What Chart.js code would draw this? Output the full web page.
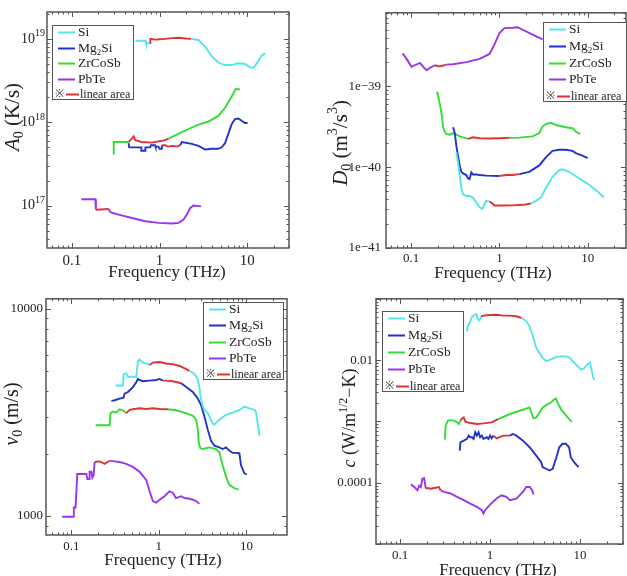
<!DOCTYPE html>
<html>
<head>
<meta charset="utf-8">
<style>
body { margin: 0; background: #fff; }
#wrap { position: relative; width: 627px; height: 576px; overflow: hidden; }
.cell { position: absolute; }
</style>
</head>
<body>
<div id="wrap">
  <div class="cell" style="left:0;top:0;width:313px;height:288px"><canvas id="cA"></canvas></div>
  <div class="cell" style="left:313px;top:0;width:314px;height:288px"><canvas id="cD"></canvas></div>
  <div class="cell" style="left:0;top:288px;width:313px;height:288px"><canvas id="cV"></canvas></div>
  <div class="cell" style="left:313px;top:288px;width:314px;height:288px"><canvas id="cC"></canvas></div>
</div>

<script src="https://cdn.jsdelivr.net/npm/chart.js"></script>

<script>
// materials, in legend order
const materials = ["Si", "Mg2Si", "ZrCoSb", "PbTe"];
const colors = ["#52e6ea", "#2233cc", "#33dd33", "#9a35ee"];
const RED = "#dd3333";

const freqLabels = [0.1, 1, 10];

// A0 (K/s) vs frequency (THz)
const A_Si = [[0.53,9.5e18],[0.69,9.5e18],[0.70,8.9e18],[0.78,8.9e18],[0.785,1.0e19],[0.9,9.8e18],[1.0,9.9e18],[1.16,1.0e19],[1.4,1.02e19],[1.65,1.03e19],[2.0,1.01e19],[2.29,1.0e19],[2.78,9.7e18],[3.31,8.1e18],[3.94,6.2e18],[4.69,5.2e18],[5.59,4.85e18],[6.66,4.85e18],[7.93,5.1e18],[9.45,5.0e18],[10.8,4.55e18],[11.5,4.5e18],[12.3,4.76e18],[13.4,5.44e18],[14.6,6.3e18],[16,6.7e18]];
const A_Mg = [[0.444,5.6e17],[0.45,5.0e17],[0.62,5.0e17],[0.62,4.55e17],[0.69,4.55e17],[0.69,5.0e17],[0.78,5.0e17],[0.8,5.3e17],[0.89,5.3e17],[0.9,5.1e17],[0.97,5.1e17],[1.0,4.8e17],[1.06,4.8e17],[1.07,5.3e17],[1.16,5.3e17],[1.25,5.1e17],[1.4,5.2e17],[1.6,5.1e17],[1.72,5.3e17],[1.8,5.8e17],[2.33,5.5e17],[2.78,5.2e17],[3.31,4.7e17],[3.94,4.8e17],[4.69,4.8e17],[5.12,5.0e17],[5.59,5.6e17],[6.1,7.3e17],[6.66,9.5e17],[7.26,1.09e18],[7.93,1.11e18],[8.65,1.04e18],[9.45,9.8e17],[10.1,9.8e17]];
const A_Zr = [[0.30,4.1e17],[0.30,5.8e17],[0.313,5.8e17],[0.444,5.8e17],[0.484,6.37e17],[0.506,6.78e17],[0.528,6.1e17],[0.629,5.8e17],[0.818,5.7e17],[0.974,5.9e17],[1.16,6.1e17],[1.27,6.37e17],[1.51,6.97e17],[1.96,7.96e17],[2.78,9.35e17],[3.61,1.02e18],[4.69,1.19e18],[5.59,1.49e18],[6.66,2.04e18],[7.4,2.5e18],[8.3,2.48e18]];
const A_Pb = [[0.128,1.19e17],[0.185,1.19e17],[0.188,8.9e16],[0.263,9.1e16],[0.274,8.36e16],[0.287,8.2e16],[0.341,7.8e16],[0.484,7.1e16],[0.687,6.5e16],[0.974,6.2e16],[1.38,6.1e16],[1.645,6.2e16],[1.88,6.8e16],[2.05,7.8e16],[2.23,9.3e16],[2.44,1.0e17],[2.98,9.8e16]];
const A_linear = [[0.78,2.29],[1.1,1.75],[0.44,1.27],[0.188,0.26]];
const A_labels = [1e17, 1e18, 1e19];

// D0 (m^3/s^3)
const D_Si = [[0.325,1.52e-40],[0.339,1.15e-40],[0.355,7.98e-41],[0.370,5.53e-41],[0.387,4.6e-41],[0.421,4.4e-41],[0.459,4.4e-41],[0.501,4.2e-41],[0.546,3.66e-41],[0.596,3.18e-41],[0.638,3.04e-41],[0.678,3.5e-41],[0.708,3.83e-41],[0.772,3.75e-41],[0.841,3.5e-41],[0.878,3.35e-41],[1.09,3.35e-41],[1.41,3.37e-41],[1.99,3.45e-41],[2.27,3.56e-41],[2.59,3.83e-41],[2.94,4.2e-41],[3.35,5.53e-41],[3.98,7.6e-41],[4.73,9.16e-41],[5.17,9.4e-41],[6.13,8.75e-41],[7.94,7.3e-41],[10.3,6.05e-41],[13.4,4.82e-41],[15.2,4.2e-41]];
const D_Mg = [[0.298,3.11e-40],[0.312,2.64e-40],[0.325,1.83e-40],[0.339,1.39e-40],[0.355,1.05e-40],[0.370,8.75e-41],[0.387,8.37e-41],[0.421,7.98e-41],[0.440,7.28e-41],[0.459,7.1e-41],[0.480,8.6e-41],[0.501,8.1e-41],[0.546,8.1e-41],[0.596,7.98e-41],[0.708,7.85e-41],[1.0,7.78e-41],[1.19,7.98e-41],[1.41,7.98e-41],[1.68,8.2e-41],[2.17,8.75e-41],[2.82,1.05e-40],[3.35,1.32e-40],[3.98,1.59e-40],[4.73,1.64e-40],[5.63,1.64e-40],[6.7,1.59e-40],[7.3,1.49e-40],[8.67,1.39e-40],[9.96,1.29e-40]];
const D_Zr = [[0.197,8.55e-40],[0.208,6.6e-40],[0.221,4.58e-40],[0.230,3.17e-40],[0.240,2.76e-40],[0.251,2.57e-40],[0.273,2.52e-40],[0.298,2.64e-40],[0.325,2.52e-40],[0.355,2.40e-40],[0.404,2.30e-40],[0.440,2.23e-40],[0.501,2.34e-40],[0.596,2.28e-40],[0.772,2.26e-40],[1.0,2.28e-40],[1.30,2.30e-40],[1.68,2.32e-40],[2.37,2.40e-40],[2.82,2.64e-40],[3.07,3.17e-40],[3.35,3.41e-40],[3.81,3.54e-40],[4.35,3.32e-40],[5.63,3.11e-40],[6.7,3.03e-40],[7.3,2.76e-40],[8.2,2.57e-40]];
const D_Pb = [[0.080,2.55e-39],[0.089,2.18e-39],[0.101,1.74e-39],[0.110,1.82e-39],[0.126,1.95e-39],[0.137,1.74e-39],[0.150,1.58e-39],[0.163,1.69e-39],[0.186,1.82e-39],[0.202,1.77e-39],[0.221,1.78e-39],[0.251,1.85e-39],[0.298,1.87e-39],[0.421,1.99e-39],[0.596,2.18e-39],[0.772,2.51e-39],[0.878,3.3e-39],[1.0,4.56e-39],[1.14,5.23e-39],[1.41,5.3e-39],[1.61,5.37e-39],[1.83,5.0e-39],[2.37,4.35e-39],[3.07,3.79e-39]];
const D_linear = [[0.8,2.3],[1.05,1.7],[0.44,1.3],[0.19,0.26]];
const D_labels = [1e-41, 1e-40, 1e-39];

// v0 (m/s)
const V_Si = [[0.321,4272],[0.389,4272],[0.396,4850],[0.424,4885],[0.444,4710],[0.552,4710],[0.577,5600],[0.602,5700],[0.657,5508],[0.717,5455],[0.783,5366],[0.854,5508],[1.02,5543],[1.21,5455],[1.44,5420],[1.72,5307],[2.05,5118],[2.23,5030],[2.55,4850],[2.78,4593],[2.9,4195],[3.03,3628],[3.22,3313],[3.61,3140],[4.12,2796],[4.30,2766],[4.90,2920],[5.84,3083],[6.95,3162],[8.29,3255],[9.43,3376],[10.8,3313],[12.3,3255],[12.8,3196],[13.4,2817],[14.0,2481],[14.4,2443]];
const V_Mg = [[0.287,3602],[0.313,3625],[0.356,3694],[0.396,3728],[0.406,3901],[0.444,3973],[0.484,4120],[0.506,4195],[0.552,4428],[0.577,4593],[0.602,4543],[0.657,4478],[0.783,4510],[0.932,4543],[1.02,4593],[1.11,4510],[1.21,4510],[1.44,4478],[1.80,4380],[2.05,4195],[2.44,3973],[2.78,3694],[3.03,3438],[3.31,3027],[3.61,2620],[3.94,2307],[4.30,2185],[4.90,2146],[5.35,2108],[5.84,2146],[6.37,2071],[6.95,2018],[7.59,2018],[8.29,2011],[8.66,1759],[9.45,1607],[10.05,1590]];
const V_Zr = [[0.190,2746],[0.274,2746],[0.281,3140],[0.299,3196],[0.327,3162],[0.356,3279],[0.389,3242],[0.424,3140],[0.463,3255],[0.506,3279],[0.602,3314],[0.717,3290],[0.854,3314],[1.02,3290],[1.27,3279],[1.57,3242],[2.05,3140],[2.44,3050],[2.66,2920],[2.78,2620],[2.85,2266],[2.98,2124],[3.17,2108],[3.77,2146],[4.49,2108],[4.90,2033],[5.35,1759],[5.84,1550],[6.37,1416],[7.26,1365],[8.15,1341]];
const V_Pb = [[0.0786,993],[0.105,993],[0.107,1099],[0.112,1099],[0.117,1595],[0.149,1595],[0.153,1511],[0.160,1511],[0.162,1636],[0.170,1636],[0.174,1533],[0.180,1574],[0.185,1824],[0.211,1837],[0.241,1788],[0.274,1851],[0.313,1837],[0.356,1824],[0.424,1788],[0.506,1727],[0.602,1636],[0.717,1495],[0.783,1317],[0.854,1181],[0.932,1160],[1.02,1199],[1.16,1247],[1.32,1317],[1.44,1296],[1.57,1222],[1.80,1247],[1.96,1222],[2.23,1212],[2.44,1199],[2.66,1181],[2.90,1145]];
const V_linear = [[0.78,2.23],[1.1,1.8],[0.44,1.3],[0.185,0.27]];
const V_labels = [1000, 10000];

// c (W/m^1/2-K)
const C_Si = [[0.554,0.0295],[0.563,0.0356],[0.593,0.0403],[0.629,0.0505],[0.667,0.055],[0.702,0.0564],[0.726,0.0486],[0.751,0.0446],[0.776,0.0457],[0.796,0.0519],[0.845,0.0532],[1.0,0.0545],[1.18,0.055],[1.40,0.0532],[1.66,0.0532],[1.96,0.0519],[2.23,0.0486],[2.53,0.0429],[2.75,0.0356],[2.99,0.0245],[3.26,0.0158],[3.54,0.0131],[3.85,0.0109],[4.19,0.00964],[4.56,0.01],[5.40,0.0112],[6.38,0.0116],[7.56,0.0112],[8.94,0.00851],[10.2,0.00706],[11.0,0.00723],[12.0,0.00851],[12.9,0.00905],[13.4,0.00706],[14.0,0.00518],[14.5,0.00474]];
const C_Mg = [[0.460,3.34e-4],[0.468,4.56e-4],[0.510,4.85e-4],[0.554,5.18e-4],[0.578,5.86e-4],[0.603,5.51e-4],[0.629,5.51e-4],[0.656,5.18e-4],[0.684,6.64e-4],[0.714,5.86e-4],[0.745,6.64e-4],[0.776,5.51e-4],[0.810,5.86e-4],[0.845,5.18e-4],[0.919,5.51e-4],[0.959,5.18e-4],[1.0,5.86e-4],[1.04,5.3e-4],[1.09,5.86e-4],[1.18,5.3e-4],[1.40,5.86e-4],[1.66,5.86e-4],[1.80,6.24e-4],[1.96,5.86e-4],[2.32,4.85e-4],[2.75,3.79e-4],[3.26,2.77e-4],[3.70,2.16e-4],[3.85,1.79e-4],[4.19,1.69e-4],[4.56,1.58e-4],[4.96,1.69e-4],[5.40,2.45e-4],[5.87,3.79e-4],[6.38,4.31e-4],[6.95,4.31e-4],[7.56,3.79e-4],[7.88,2.61e-4],[8.57,2.16e-4],[9.6,1.79e-4]];
const C_Zr = [[0.315,5.05e-4],[0.320,8.51e-4],[0.340,1.03e-3],[0.364,1.05e-3],[0.395,1.03e-3],[0.430,9.64e-4],[0.449,9.06e-4],[0.468,1.03e-3],[0.488,1.12e-3],[0.510,1.16e-3],[0.531,9.87e-4],[0.603,9.4e-4],[0.714,9.06e-4],[0.845,9.28e-4],[1.04,9.64e-4],[1.23,1.09e-3],[1.66,1.32e-3],[2.32,1.55e-3],[2.75,1.69e-3],[2.87,1.40e-3],[3.04,1.12e-3],[3.26,1.16e-3],[3.54,1.40e-3],[3.85,1.69e-3],[4.37,1.91e-3],[4.75,2.03e-3],[5.17,2.30e-3],[5.40,2.36e-3],[5.63,2.03e-3],[6.13,1.58e-3],[6.95,1.27e-3],[7.56,1.09e-3],[8.09,9.87e-4]];
const C_Pb = [[0.132,9.39e-5],[0.144,8.51e-5],[0.156,7.52e-5],[0.163,8.9e-5],[0.170,8.51e-5],[0.177,1.16e-4],[0.185,1.19e-4],[0.193,7.99e-5],[0.201,8.18e-5],[0.219,7.99e-5],[0.249,8.28e-5],[0.270,8.51e-5],[0.282,7.52e-5],[0.307,7.06e-5],[0.364,6.66e-5],[0.430,5.86e-5],[0.510,5.18e-5],[0.603,4.56e-5],[0.714,4.03e-5],[0.810,3.56e-5],[0.845,3.14e-5],[0.881,3.56e-5],[1.0,4.4e-5],[1.18,5.51e-5],[1.34,6.24e-5],[1.52,5.86e-5],[1.66,5.18e-5],[1.96,5.51e-5],[2.32,7.06e-5],[2.53,8.51e-5],[2.75,8.51e-5],[2.94,7.52e-5],[3.04,6.4e-5]];
const C_linear = [[0.8,2.2],[1.1,1.7],[0.46,1.25],[0.19,0.28]];
const C_labels = [1e-4, 1e-2];

const SERIF = '"Liberation Serif", "Times New Roman", serif';

function logTicks(min, max) {
  const out = [];
  for (let e = Math.floor(Math.log10(min)); e <= Math.ceil(Math.log10(max)); e++) {
    for (let m = 1; m <= 9; m++) {
      const v = parseFloat(m + "e" + e);
      if (v >= min * 0.999 && v <= max * 1.001) out.push({ value: v, major: m === 1 });
    }
  }
  return out;
}

function hasLabel(list, v) {
  return list.some(l => Math.abs(v / l - 1) < 1e-6);
}

function fontOf(kind, size) {
  const s = (kind === "sub" || kind === "sup") ? Math.round(size * 0.68) : size;
  return (kind === "i" ? "italic " : "") + s + "px " + SERIF;
}

// draws text made of [text, kind] parts
function drawRich(ctx, parts, size, x, y, rot, align) {
  ctx.save();
  ctx.translate(x, y);
  ctx.rotate(rot || 0);
  let w = 0;
  for (const [t, k] of parts) { ctx.font = fontOf(k, size); w += ctx.measureText(t).width; }
  let cx = align === "left" ? 0 : align === "right" ? -w : -w / 2;
  ctx.textBaseline = "middle";
  ctx.textAlign = "left";
  ctx.fillStyle = "#222";
  for (const [t, k] of parts) {
    ctx.font = fontOf(k, size);
    const dy = k === "sub" ? size * 0.28 : k === "sup" ? -size * 0.36 : 0;
    ctx.fillText(t, cx, dy);
    cx += ctx.measureText(t).width;
  }
  ctx.restore();
}

function nameParts(name) {
  return name.split(/(\d+)/).filter(s => s).map(s => /\d/.test(s) ? [s, "sub"] : [s, ""]);
}

const deco = {
  id: "deco",
  afterDraw(chart, args, o) {
    const ctx = chart.ctx, a = chart.chartArea;
    const xs = chart.scales.x, ys = chart.scales.y;
    ctx.save();
    // tick marks pointing inwards, on all four sides
    ctx.strokeStyle = "#555";
    ctx.lineWidth = 1;
    ctx.beginPath();
    for (const t of xs.ticks) {
      const p = Math.round(xs.getPixelForValue(t.value)) + 0.5;
      const len = t.major ? 5 : 2.5;
      ctx.moveTo(p, a.bottom); ctx.lineTo(p, a.bottom - len);
      ctx.moveTo(p, a.top); ctx.lineTo(p, a.top + len);
    }
    for (const t of ys.ticks) {
      const p = Math.round(ys.getPixelForValue(t.value)) + 0.5;
      const len = t.major ? 5 : 2.5;
      ctx.moveTo(a.left, p); ctx.lineTo(a.left + len, p);
      ctx.moveTo(a.right, p); ctx.lineTo(a.right - len, p);
    }
    ctx.stroke();
    ctx.lineWidth = 1.5;
    ctx.strokeRect(a.left, a.top, a.right - a.left, a.bottom - a.top);

    // power-of-ten labels with real superscripts
    if (o.powLabels) {
      for (const v of o.powLabels) {
        const e = Math.round(Math.log10(v));
        drawRich(ctx, [["10", ""], [String(e), "sup"]], 14, a.left - 2, ys.getPixelForValue(v), 0, "right");
      }
    }

    // legend box
    const L = o.legend;
    ctx.fillStyle = "#fff";
    ctx.fillRect(L.x, L.y, L.w, L.h);
    ctx.strokeStyle = "#555";
    ctx.lineWidth = 1;
    ctx.strokeRect(L.x + 0.5, L.y + 0.5, L.w, L.h);
    const step = (L.h - 12) / 4;
    ctx.lineWidth = 2;
    materials.forEach((m, i) => {
      const yy = Math.round(L.y + 7 + i * step) + 0.5;
      ctx.strokeStyle = colors[i];
      ctx.beginPath(); ctx.moveTo(L.x + 6, yy); ctx.lineTo(L.x + 23, yy); ctx.stroke();
      drawRich(ctx, nameParts(m), 13.5, L.x + 26, yy, 0, "left");
    });
    const yl = Math.round(L.y + 7 + 4 * step) + 0.5;
    ctx.fillStyle = "#333";
    ctx.font = "11px " + SERIF;
    ctx.textBaseline = "middle";
    ctx.fillText("※", L.x + 3, yl);
    ctx.strokeStyle = RED;
    ctx.beginPath(); ctx.moveTo(L.x + 14, yl); ctx.lineTo(L.x + 27, yl); ctx.stroke();
    drawRich(ctx, [["linear area", ""]], 12, L.x + 28, yl, 0, "left");

    // axis titles
    drawRich(ctx, o.yTitle, o.yTitleSize, o.yTitleAt[0], o.yTitleAt[1], -Math.PI / 2);
    drawRich(ctx, [["Frequency (THz)", ""]], 17, o.xTitleAt[0], o.xTitleAt[1], 0);
    ctx.restore();
  }
};

function makeChart(id, sets, linear, box, xr, yr, yLabels, yFmt, tk, deco_opts) {
  const datasets = sets.map((pts, i) => ({
    label: materials[i],
    data: pts.map(p => ({ x: p[0], y: p[1] })),
    borderColor: colors[i],
    borderWidth: 1.9,
    pointRadius: 0,
    tension: 0,
    segment: {
      borderColor: c => {
        const mid = Math.sqrt(c.p0.parsed.x * c.p1.parsed.x);
        return (mid >= linear[i][0] && mid <= linear[i][1]) ? RED : colors[i];
      }
    }
  }));
  const tickFont = { family: SERIF, size: tk.size };
  return new Chart(document.getElementById(id), {
    type: "line",
    data: { datasets },
    options: {
      animation: false,
      responsive: true,
      maintainAspectRatio: false,
      layout: { padding: { left: 0, top: box.top, right: box.right, bottom: 0 } },
      plugins: { legend: { display: false }, tooltip: { enabled: false }, deco: deco_opts },
      scales: {
        x: {
          type: "logarithmic",
          min: xr[0], max: xr[1],
          afterBuildTicks: s => { s.ticks = logTicks(xr[0], xr[1]); },
          afterFit: s => { s.height = box.bottom; },
          grid: { display: false, drawTicks: false },
          border: { display: false },
          ticks: {
            autoSkip: false, maxRotation: 0, padding: tk.xpad, color: "#222", font: tickFont,
            callback: v => hasLabel(freqLabels, v) ? String(v) : ""
          }
        },
        y: {
          type: "logarithmic",
          min: yr[0], max: yr[1],
          afterBuildTicks: s => { s.ticks = logTicks(yr[0], yr[1]); },
          afterFit: s => { s.width = box.left; },
          grid: { display: false, drawTicks: false },
          border: { display: false },
          ticks: {
            autoSkip: false, padding: tk.ypad, color: "#222", font: tickFont,
            callback: v => (yFmt && hasLabel(yLabels, v)) ? yFmt(v) : ""
          }
        }
      }
    },
    plugins: [deco]
  });
}

const expOf = v => Math.round(Math.log10(v));

makeChart("cA", [A_Si, A_Mg, A_Zr, A_Pb], A_linear,
  { left: 47, top: 5, right: 24, bottom: 40 }, [0.052, 30], [3.1e16, 2.1e19], A_labels, null,
  { size: 15, xpad: 4, ypad: 3 },
  { legend: { x: 52, y: 25, w: 81, h: 74 }, powLabels: A_labels,
    yTitle: [["A", "i"], ["0", "sub"], [" (K/s)", ""]], yTitleSize: 21, yTitleAt: [13, 117], xTitleAt: [167, 273] });

makeChart("cD", [D_Si, D_Mg, D_Zr, D_Pb], D_linear,
  { left: 73, top: 6, right: 1, bottom: 40 }, [0.052, 27], [1e-41, 8.1e-39], D_labels,
  v => "1e\u2212" + Math.abs(expOf(v)),
  { size: 13, xpad: 3, ypad: 5 },
  { legend: { x: 230, y: 22, w: 83, h: 79 },
    yTitle: [["D", "i"], ["0", "sub"], [" (m", ""], ["3", "sup"], ["/s", ""], ["3", "sup"], [")", ""]], yTitleSize: 21, yTitleAt: [28, 143], xTitleAt: [180, 274] });

makeChart("cV", [V_Si, V_Mg, V_Zr, V_Pb], V_linear,
  { left: 46, top: 6, right: 26, bottom: 41 }, [0.0515, 29], [810, 11200], V_labels,
  v => String(v),
  { size: 13, xpad: 4, ypad: 3 },
  { legend: { x: 203, y: 14, w: 80, h: 77 },
    yTitle: [["v", "i"], ["0", "sub"], [" (m/s)", ""]], yTitleSize: 20, yTitleAt: [13, 126], xTitleAt: [163, 273] });

makeChart("cC", [C_Si, C_Mg, C_Zr, C_Pb], C_linear,
  { left: 63, top: 8, right: 1, bottom: 32 }, [0.054, 30], [1e-5, 0.1], C_labels,
  v => v >= 0.01 ? "0.01" : "0.0001",
  { size: 13, xpad: 4, ypad: 3 },
  { legend: { x: 69, y: 23, w: 81, h: 80 },
    yTitle: [["c", "i"], [" (W/m", ""], ["1/2", "sup"], ["\u2212K)", ""]], yTitleSize: 18, yTitleAt: [37, 130], xTitleAt: [185, 283] });
</script>
</body>
</html>
